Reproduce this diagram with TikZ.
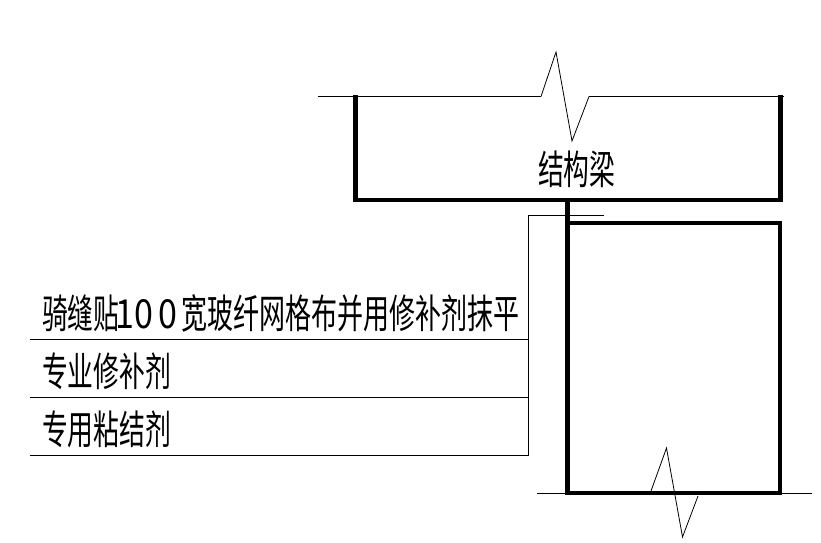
\documentclass[tikz,border=0pt]{standalone}
\usepackage{fontspec}
\newfontfamily\cjk{Noto Sans CJK SC}
\tikzset{
  thinline/.style={draw=black,line width=1pt},
  zigline/.style={draw=black,line width=.8pt},
  thickline/.style={draw=black,line width=4.6pt,line cap=butt,line join=miter},
  cadtext/.style={font=\cjk\fontsize{40}{40}\selectfont,anchor=base west,inner sep=0pt,xscale=.645,text=black},
  caddigit/.style={cadtext,xscale=1.32},
  cadwide/.style={cadtext,xscale=1.008}
}
\begin{document}
\begin{tikzpicture}[x=1pt,y=-1pt]
\useasboundingbox (0,0) rectangle (821,542);
% beam
\coordinate (bl) at (318,96.5);
\coordinate (z1) at (541,96.5);
\coordinate (z2) at (556,52);
\coordinate (z3) at (572,141);
\coordinate (z4) at (589,96.5);
\coordinate (br) at (784,96.5);
\draw[thinline] (bl) -- (z1);
\draw[zigline] (z1) -- (z2) -- (z3) -- (z4);
\draw[thinline] (z4) -- (br);
\coordinate (b1) at (355.5,95);
\coordinate (b2) at (355.5,200);
\coordinate (b3) at (780.5,200);
\coordinate (b4) at (780.5,95);
\draw[thickline] (b1) -- (b2) -- (b3) -- (b4);
% column
\coordinate (c0) at (567.5,200);
\coordinate (c1) at (567.5,493);
\coordinate (c2) at (780,493);
\coordinate (c3) at (780,223);
\coordinate (c4) at (567.5,223);
\draw[thickline] (c0) -- (c1) -- (c2) -- (c3) -- (c4);
\coordinate (g1) at (537,493);
\coordinate (g2) at (812,493);
\draw[thinline] (g1) -- (g2);
\coordinate (y1) at (651,491);
\coordinate (y2) at (666.5,448);
\coordinate (y3) at (682.5,537);
\coordinate (y4) at (698,496);
\draw[zigline] (y1) -- (y2) -- (y3) -- (y4);
% leader
\coordinate (l0) at (604,215);
\coordinate (l1) at (528.5,215);
\coordinate (l2) at (528.5,455.5);
\coordinate (l3) at (30,455.5);
\coordinate (m1) at (30,397.5);
\coordinate (m2) at (528.5,397.5);
\coordinate (n1) at (30,339.5);
\coordinate (n2) at (528.5,339.5);
\draw[thinline] (l0) -- (l1) -- (l2) -- (l3);
\draw[thinline] (m1) -- (m2);
\draw[thinline] (n1) -- (n2);
% labels
\node[cadtext] (t0) at (538,184) {结构梁};
\node[cadtext] (t1) at (42,328) {骑缝贴};
\node[caddigit] (t1d) at (115,328) {1\hspace{0pt}0\hspace{6pt}0};
\node[cadwide] (t1b) at (181,328) {宽玻纤网格布并用修补剂抹平};
\node[cadtext] (t2) at (42,386) {专业修补剂};
\node[cadtext] (t3) at (42,444) {专用粘结剂};
\end{tikzpicture}
\end{document}
